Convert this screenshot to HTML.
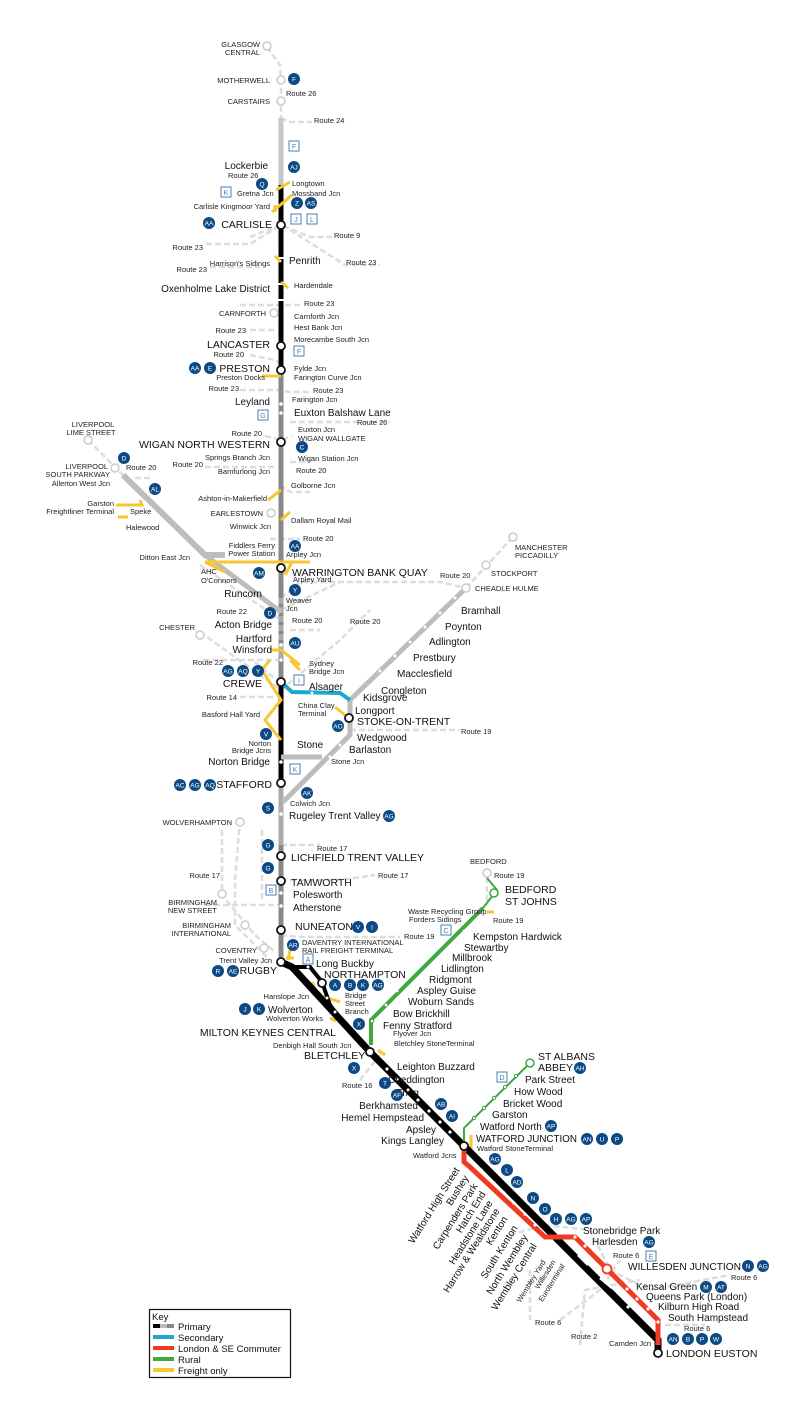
<!DOCTYPE html>
<html><head><meta charset="utf-8"><style>
html,body{margin:0;padding:0;background:#fff;}
svg{display:block;font-family:"Liberation Sans",Arial,sans-serif;}
.s{font-size:7.5px;fill:#222}
.m{font-size:10px;fill:#111}
.b{font-size:10.5px;fill:#111}
.bd circle{fill:#0d4a85}
.bd text{fill:#fff;font-size:6.5px;text-anchor:middle}
.bx rect{fill:#fff;stroke:#4a7fb5;stroke-width:1}
.bx text{fill:#4a7fb5;font-size:7px;text-anchor:middle}
.rt{stroke:#ddd;stroke-width:2.5;stroke-dasharray:6,3;fill:none}
</style></head><body>
<svg width="800" height="1409" viewBox="0 0 800 1409" xmlns="http://www.w3.org/2000/svg">
<g class="rt">
<path d="M267,47 L280,65 L281,80 L281,118"/>
<path d="M281,118 L290,122 L312,122"/>
<path d="M250,237 L281,225 L310,237 L332,237"/>
<path d="M206,244 L250,244 L281,225"/>
<path d="M290,230 L345,265 L380,265"/>
<path d="M210,267 L260,267"/>
<path d="M240,305 L300,305"/>
<path d="M250,330 L275,330"/>
<path d="M250,355 L275,360 L281,365"/>
<path d="M240,390 L280,390 L290,392 L310,392"/>
<path d="M290,422 L390,422"/>
<path d="M265,436 L281,440 L292,436"/>
<path d="M205,467 L275,467"/>
<path d="M290,462 L310,462"/>
<path d="M280,485 L290,492 L310,492"/>
<path d="M270,539 L300,539"/>
<path d="M88,440 L123,475"/>
<path d="M135,478 L150,478"/>
<path d="M281,598 L300,582 L380,582 L440,582 L466,588"/>
<path d="M200,565 L281,620"/>
<path d="M281,610 L340,582"/>
<path d="M290,630 L320,630"/>
<path d="M281,660 L200,660"/>
<path d="M255,662 L281,684"/>
<path d="M200,632 L281,690 L340,640 L370,610"/>
<path d="M240,697 L275,697"/>
<path d="M350,730 L460,730"/>
<path d="M466,588 L513,537"/>
<path d="M240,820 L235,880 L235,925 L270,960"/>
<path d="M222,830 L222,895 L255,935 L275,952"/>
<path d="M262,830 L262,900"/>
<path d="M205,905 L280,905"/>
<path d="M281,845 L300,845 L320,845"/>
<path d="M281,880 L340,880 L375,875"/>
<path d="M281,935 L300,937 L400,937"/>
<path d="M487,868 L487,905"/>
<path d="M360,1080 L380,1055"/>
<path d="M510,1235 L545,1225 L590,1230 L610,1270 L650,1290 L730,1275"/>
<path d="M560,1320 L600,1290 L620,1260"/>
<path d="M580,1345 L585,1290 L640,1280"/>
<path d="M665,1325 L705,1325"/>
<path d="M530,1270 L530,1320"/>
</g>
<line x1="281" y1="118" x2="281" y2="187" stroke="#c7c7c7" stroke-width="5"/>
<line x1="281" y1="185" x2="281" y2="366" stroke="#000" stroke-width="5"/>
<g stroke="#fff" stroke-width="2">
<line x1="278" y1="258" x2="284" y2="258"/><line x1="278" y1="284" x2="284" y2="284"/><line x1="278" y1="300" x2="284" y2="300"/>
</g>
<line x1="281" y1="370" x2="281" y2="680" stroke="#888" stroke-width="5"/>
<line x1="281" y1="598" x2="281" y2="660" stroke="#aaa" stroke-width="5" stroke-dasharray="6,3"/>
<line x1="281" y1="682" x2="281" y2="783" stroke="#000" stroke-width="5"/>
<line x1="281" y1="785" x2="281" y2="962" stroke="#888" stroke-width="5"/>
<line x1="281" y1="785" x2="281" y2="845" stroke="#aaa" stroke-width="5"/>
<polyline points="123,475 205,555 225,555" fill="none" stroke="#bdbdbd" stroke-width="6"/>
<polyline points="205,555 281,612" fill="none" stroke="#bdbdbd" stroke-width="5"/>
<polyline points="350,700 466,588" fill="none" stroke="#bdbdbd" stroke-width="5"/>
<polyline points="350,700 350,735 283,802" fill="none" stroke="#bdbdbd" stroke-width="5"/>
<line x1="281" y1="757" x2="322" y2="757" stroke="#bdbdbd" stroke-width="5"/>
<polyline points="281,682 292,692 340,693 350,700" fill="none" stroke="#1aa9cc" stroke-width="4"/>
<g stroke="#f7c633" stroke-width="3" fill="none">
<line x1="205" y1="562" x2="310" y2="562"/>
<line x1="205" y1="562" x2="225" y2="572"/>
<path d="M285,575 L292,562"/>
<path d="M276,190 L290,182"/><path d="M272,212 L292,195"/><path d="M275,205 L275,212"/>
<path d="M275,256 L281,262"/><path d="M281,282 L288,288"/>
<path d="M262,376 L281,376"/>
<path d="M268,500 L281,490"/><path d="M281,520 L290,512"/>
<path d="M116,505 L142,505 L140,500"/><path d="M118,517 L128,517"/>
<path d="M270,650 L281,650 L300,665"/><path d="M270,660 L262,670 L281,700 L265,720 L281,740"/>
<path d="M290,660 L300,670"/>
<path d="M335,707 L345,715"/>
<path d="M312,982 L318,995 L340,1002"/>
<path d="M288,960 L290,950"/><path d="M286,958 L294,958"/>
<path d="M330,1018 L336,1021"/>
<path d="M378,1050 L385,1055"/>
<path d="M487,912 L494,912"/>
<path d="M471,1135 L471,1150"/>
<path d="M560,1240 L575,1255"/>
</g>
<polyline points="281,962 292,967 370,1052 658,1340 658,1352" fill="none" stroke="#000" stroke-width="7"/>
<g stroke="#fff" stroke-width="2.5"><line x1="578" y1="1255" x2="588" y2="1265"/><line x1="600" y1="1278" x2="612" y2="1288"/></g>
<polyline points="292,967 310,967 322,982 330,1005 345,1025" fill="none" stroke="#000" stroke-width="4"/>
<polyline points="464,1148 464,1162 470,1167 545,1237 575,1237 600,1262 658,1320 658,1345" fill="none" stroke="#f03b24" stroke-width="5"/>
<polyline points="464,1146 464,1128 530,1063" fill="none" stroke="#3fa83f" stroke-width="2"/>
<polyline points="371,1045 371,1020 483,908" fill="none" stroke="#3fa83f" stroke-width="4"/>
<polyline points="483,908 497,890 487,878" fill="none" stroke="#3fa83f" stroke-width="2"/>
<g fill="#fff">
<circle cx="281" cy="404" r="1.8"/><circle cx="281" cy="413" r="1.8"/><circle cx="281" cy="660" r="1.8"/><circle cx="281" cy="645" r="1.8"/>
<circle cx="281" cy="762" r="1.8"/><circle cx="281" cy="814" r="1.8"/><circle cx="281" cy="893" r="1.8"/><circle cx="281" cy="906" r="1.8"/>
<circle cx="308" cy="967" r="1.5"/><circle cx="327" cy="998" r="1.5"/><circle cx="335" cy="1012" r="1.5"/>
<circle cx="312" cy="693" r="1.5"/>
<circle cx="380" cy="671" r="1.5"/><circle cx="395" cy="656" r="1.5"/><circle cx="410" cy="642" r="1.5"/><circle cx="425" cy="627" r="1.5"/><circle cx="440" cy="613" r="1.5"/><circle cx="455" cy="598" r="1.5"/>
<circle cx="330" cy="757" r="1.5"/><circle cx="340" cy="745" r="1.5"/>
<circle cx="387" cy="1069" r="1.6"/><circle cx="397" cy="1079" r="1.6"/><circle cx="408" cy="1090" r="1.6"/><circle cx="418" cy="1100" r="1.6"/><circle cx="429" cy="1111" r="1.6"/><circle cx="440" cy="1122" r="1.6"/><circle cx="450" cy="1132" r="1.6"/>
<circle cx="481" cy="1170" r="1.6"/><circle cx="494" cy="1183" r="1.6"/><circle cx="504" cy="1193" r="1.6"/><circle cx="514" cy="1203" r="1.6"/><circle cx="525" cy="1214" r="1.6"/><circle cx="535" cy="1225" r="1.6"/>
<circle cx="575" cy="1237" r="1.6"/><circle cx="585" cy="1246" r="1.6"/>
<circle cx="627" cy="1289" r="1.6"/><circle cx="637" cy="1299" r="1.6"/><circle cx="648" cy="1309" r="1.6"/><circle cx="658" cy="1322" r="1.6"/>
<circle cx="628" cy="1307" r="1.6"/>
<circle cx="386" cy="1005" r="1.4"/><circle cx="397" cy="991" r="1.4"/><circle cx="408" cy="978" r="1.4"/><circle cx="420" cy="964" r="1.4"/><circle cx="431" cy="950" r="1.4"/><circle cx="442" cy="937" r="1.4"/><circle cx="453" cy="924" r="1.4"/><circle cx="464" cy="931" r="1.4"/>
</g>
<g fill="#fff" stroke="#3fa83f" stroke-width="1"><circle cx="474" cy="1118" r="1.6"/><circle cx="484" cy="1108" r="1.6"/><circle cx="494" cy="1098" r="1.6"/><circle cx="505" cy="1087" r="1.6"/><circle cx="516" cy="1076" r="1.6"/><circle cx="530" cy="1063" r="4" stroke-width="1.5"/><circle cx="494" cy="893" r="4" stroke-width="1.5"/><circle cx="372" cy="1021" r="1.8"/></g>
<g fill="#fff" stroke="#ccc" stroke-width="1.5">
<circle cx="267" cy="46" r="4"/><circle cx="281" cy="80" r="4"/><circle cx="281" cy="101" r="4"/><circle cx="274" cy="313" r="4"/><circle cx="271" cy="513" r="4"/><circle cx="88" cy="440" r="4"/><circle cx="115" cy="468" r="4"/>
<circle cx="200" cy="635" r="4"/><circle cx="240" cy="822" r="4"/><circle cx="222" cy="894" r="4"/><circle cx="245" cy="925" r="4"/><circle cx="264" cy="948" r="4"/><circle cx="513" cy="537" r="4"/><circle cx="486" cy="565" r="4"/><circle cx="466" cy="588" r="4"/><circle cx="487" cy="873" r="4"/>
</g>
<g fill="#fff" stroke="#111" stroke-width="1.8">
<circle cx="281" cy="225" r="4"/><circle cx="281" cy="346" r="4"/><circle cx="281" cy="370" r="4"/><circle cx="281" cy="442" r="4"/><circle cx="281" cy="568" r="4"/><circle cx="281" cy="682" r="4"/><circle cx="349" cy="718" r="4"/><circle cx="281" cy="783" r="4"/><circle cx="281" cy="856" r="4"/><circle cx="281" cy="881" r="4"/><circle cx="281" cy="930" r="4"/><circle cx="281" cy="962" r="4"/><circle cx="322" cy="983" r="4"/><circle cx="370" cy="1052" r="4"/><circle cx="464" cy="1146" r="4"/><circle cx="658" cy="1353" r="4"/>
</g>
<circle cx="607" cy="1269" r="4.5" fill="#fff" stroke="#f03b24" stroke-width="1.8"/>
<g class="s">
<text x="260" y="47" text-anchor="end">GLASGOW</text><text x="260" y="55" text-anchor="end">CENTRAL</text>
<text x="270" y="83" text-anchor="end">MOTHERWELL</text>
<text x="286" y="96">Route 26</text>
<text x="270" y="104" text-anchor="end">CARSTAIRS</text>
<text x="314" y="123">Route 24</text>
<text x="228" y="178">Route 26</text>
<text x="237" y="196">Gretna Jcn</text>
<text x="292" y="186">Longtown</text><text x="292" y="196">Mossband Jcn</text>
<text x="270" y="209" text-anchor="end">Carlisle Kingmoor Yard</text>
<text x="334" y="238">Route 9</text>
<text x="203" y="250" text-anchor="end">Route 23</text>
<text x="346" y="265">Route 23</text>
<text x="270" y="266" text-anchor="end">Harrison's Sidings</text>
<text x="207" y="272" text-anchor="end">Route 23</text>
<text x="294" y="288">Hardendale</text>
<text x="304" y="306">Route 23</text>
<text x="266" y="316" text-anchor="end">CARNFORTH</text>
<text x="294" y="319">Carnforth Jcn</text>
<text x="246" y="333" text-anchor="end">Route 23</text>
<text x="294" y="330">Hest Bank Jcn</text>
<text x="294" y="342">Morecambe South Jcn</text>
<text x="244" y="357" text-anchor="end">Route 20</text>
<text x="294" y="371">Fylde Jcn</text>
<text x="294" y="380">Farington Curve Jcn</text>
<text x="265" y="380" text-anchor="end">Preston Docks</text>
<text x="239" y="391" text-anchor="end">Route 23</text>
<text x="313" y="393">Route 23</text>
<text x="292" y="402">Farington Jcn</text>
<text x="357" y="425">Route 20</text>
<text x="298" y="432">Euxton Jcn</text>
<text x="298" y="441">WIGAN WALLGATE</text>
<text x="262" y="436" text-anchor="end">Route 20</text>
<text x="298" y="461">Wigan Station Jcn</text>
<text x="270" y="460" text-anchor="end">Springs Branch Jcn</text>
<text x="203" y="467" text-anchor="end">Route 20</text>
<text x="270" y="474" text-anchor="end">Bamfurlong Jcn</text>
<text x="296" y="473">Route 20</text>
<text x="291" y="488">Golborne Jcn</text>
<text x="267" y="501" text-anchor="end">Ashton-in-Makerfield</text>
<text x="263" y="516" text-anchor="end">EARLESTOWN</text>
<text x="291" y="523">Dallam Royal Mail</text>
<text x="271" y="529" text-anchor="end">Winwick Jcn</text>
<text x="303" y="541">Route 20</text>
<text x="286" y="557">Arpley Jcn</text>
<text x="275" y="548" text-anchor="end">Fiddlers Ferry</text><text x="275" y="556" text-anchor="end">Power Station</text>
<text x="190" y="560" text-anchor="end">Ditton East Jcn</text>
<text x="201" y="574">AHC</text><text x="201" y="583">O'Connors</text>
<text x="293" y="582">Arpley Yard</text>
<text x="286" y="603">Weaver</text><text x="286" y="611">Jcn</text>
<text x="292" y="623">Route 20</text>
<text x="350" y="624">Route 20</text>
<text x="247" y="614" text-anchor="end">Route 22</text>
<text x="195" y="630" text-anchor="end">CHESTER</text>
<text x="223" y="665" text-anchor="end">Route 22</text>
<text x="309" y="666">Sydney</text><text x="309" y="674">Bridge Jcn</text>
<text x="237" y="700" text-anchor="end">Route 14</text>
<text x="260" y="717" text-anchor="end">Basford Hall Yard</text>
<text x="298" y="708">China Clay</text><text x="298" y="716">Terminal</text>
<text x="271" y="746" text-anchor="end">Norton</text><text x="271" y="753" text-anchor="end">Bridge Jcns</text>
<text x="331" y="764">Stone Jcn</text>
<text x="461" y="734">Route 19</text>
<text x="290" y="806">Colwich Jcn</text>
<text x="232" y="825" text-anchor="end">WOLVERHAMPTON</text>
<text x="317" y="851">Route 17</text>
<text x="220" y="878" text-anchor="end">Route 17</text>
<text x="378" y="878">Route 17</text>
<text x="217" y="905" text-anchor="end">BIRMINGHAM</text><text x="217" y="913" text-anchor="end">NEW STREET</text>
<text x="231" y="928" text-anchor="end">BIRMINGHAM</text><text x="231" y="936" text-anchor="end">INTERNATIONAL</text>
<text x="257" y="953" text-anchor="end">COVENTRY</text>
<text x="272" y="963" text-anchor="end">Trent Valley Jcn</text>
<text x="302" y="945">DAVENTRY INTERNATIONAL</text><text x="302" y="953">RAIL FREIGHT TERMINAL</text>
<text x="404" y="939">Route 19</text>
<text x="408" y="914">Waste Recycling Group</text><text x="409" y="922">Forders Sidings</text>
<text x="470" y="864">BEDFORD</text>
<text x="494" y="878">Route 19</text>
<text x="493" y="923">Route 19</text>
<text x="345" y="998">Bridge</text><text x="345" y="1006">Street</text><text x="345" y="1014">Branch</text>
<text x="309" y="999" text-anchor="end">Hanslope Jcn</text>
<text x="323" y="1021" text-anchor="end">Wolverton Works</text>
<text x="273" y="1048">Denbigh Hall South Jcn</text>
<text x="393" y="1036">Flyover Jcn</text>
<text x="394" y="1046">Bletchley StoneTerminal</text>
<text x="342" y="1088">Route 16</text>
<text x="413" y="1158">Watford Jcns</text>
<text x="477" y="1151">Watford StoneTerminal</text>
<text x="613" y="1258">Route 6</text>
<text x="731" y="1280">Route 6</text>
<text x="684" y="1331">Route 6</text>
<text x="535" y="1325">Route 6</text>
<text x="571" y="1339">Route 2</text>
<text x="609" y="1346">Camden Jcn</text>
<text x="515" y="550">MANCHESTER</text><text x="515" y="558">PICCADILLY</text>
<text x="491" y="576">STOCKPORT</text>
<text x="475" y="591">CHEADLE HULME</text>
<text x="440" y="578">Route 20</text>
<text x="126" y="470">Route 20</text>
<text x="93" y="427" text-anchor="middle">LIVERPOOL</text><text x="91" y="435" text-anchor="middle">LIME STREET</text>
<text x="108" y="469" text-anchor="end">LIVERPOOL</text><text x="110" y="477" text-anchor="end">SOUTH PARKWAY</text><text x="110" y="486" text-anchor="end">Allerton West Jcn</text>
<text x="114" y="506" text-anchor="end">Garston</text><text x="114" y="514" text-anchor="end">Freightliner Terminal</text>
<text x="130" y="514">Speke</text>
<text x="126" y="530">Halewood</text>
</g>
<g class="m">
<text x="268" y="169" text-anchor="end">Lockerbie</text>
<text x="289" y="264">Penrith</text>
<text x="270" y="292" text-anchor="end">Oxenholme Lake District</text>
<text x="270" y="405" text-anchor="end">Leyland</text>
<text x="294" y="416">Euxton Balshaw Lane</text>
<text x="262" y="597" text-anchor="end">Runcorn</text>
<text x="272" y="628" text-anchor="end">Acton Bridge</text>
<text x="272" y="642" text-anchor="end">Hartford</text>
<text x="272" y="653" text-anchor="end">Winsford</text>
<text x="309" y="690">Alsager</text>
<text x="363" y="701">Kidsgrove</text><text x="355" y="714">Longport</text>
<text x="357" y="741">Wedgwood</text><text x="349" y="753">Barlaston</text>
<text x="297" y="748">Stone</text>
<text x="270" y="765" text-anchor="end">Norton Bridge</text>
<text x="289" y="819">Rugeley Trent Valley</text>
<text x="461" y="614">Bramhall</text><text x="445" y="630">Poynton</text><text x="429" y="645">Adlington</text><text x="413" y="661">Prestbury</text><text x="397" y="677">Macclesfield</text><text x="381" y="694">Congleton</text>
<text x="293" y="898">Polesworth</text><text x="293" y="911">Atherstone</text>
<text x="316" y="967">Long Buckby</text>
<text x="268" y="1013">Wolverton</text>
<text x="473" y="940">Kempston Hardwick</text><text x="464" y="951">Stewartby</text><text x="452" y="961">Millbrook</text><text x="441" y="972">Lidlington</text><text x="429" y="983">Ridgmont</text><text x="417" y="994">Aspley Guise</text><text x="408" y="1005">Woburn Sands</text><text x="393" y="1017">Bow Brickhill</text><text x="383" y="1029">Fenny Stratford</text>
<text x="397" y="1070">Leighton Buzzard</text><text x="388" y="1083">Cheddington</text><text x="419" y="1096" text-anchor="end">Tring</text>
<text x="418" y="1109" text-anchor="end">Berkhamsted</text><text x="424" y="1121" text-anchor="end">Hemel Hempstead</text>
<text x="436" y="1133" text-anchor="end">Apsley</text><text x="444" y="1144" text-anchor="end">Kings Langley</text>
<text x="525" y="1083">Park Street</text><text x="514" y="1095">How Wood</text><text x="503" y="1107">Bricket Wood</text><text x="492" y="1118">Garston</text><text x="480" y="1130">Watford North</text>
<text x="583" y="1234">Stonebridge Park</text>
<text x="592" y="1245">Harlesden</text>
<text x="636" y="1290">Kensal Green</text><text x="646" y="1300">Queens Park (London)</text><text x="658" y="1310">Kilburn High Road</text><text x="668" y="1321">South Hampstead</text>
</g>
<g class="b">
<text x="272" y="228" text-anchor="end">CARLISLE</text>
<text x="270" y="348" text-anchor="end">LANCASTER</text>
<text x="270" y="372" text-anchor="end">PRESTON</text>
<text x="270" y="448" text-anchor="end">WIGAN NORTH WESTERN</text>
<text x="292" y="576">WARRINGTON BANK QUAY</text>
<text x="262" y="687" text-anchor="end">CREWE</text>
<text x="357" y="725">STOKE-ON-TRENT</text>
<text x="272" y="788" text-anchor="end">STAFFORD</text>
<text x="291" y="861">LICHFIELD TRENT VALLEY</text>
<text x="291" y="886">TAMWORTH</text>
<text x="295" y="930">NUNEATON</text>
<text x="277" y="974" text-anchor="end">RUGBY</text>
<text x="324" y="978">NORTHAMPTON</text>
<text x="336" y="1036" text-anchor="end">MILTON KEYNES CENTRAL</text>
<text x="304" y="1059">BLETCHLEY</text>
<text x="505" y="893">BEDFORD</text><text x="505" y="905">ST JOHNS</text>
<text x="538" y="1060">ST ALBANS</text><text x="538" y="1071">ABBEY</text>
<text x="476" y="1142" textLength="101" lengthAdjust="spacingAndGlyphs">WATFORD JUNCTION</text>
<text x="628" y="1270" textLength="113" lengthAdjust="spacingAndGlyphs">WILLESDEN JUNCTION</text>
<text x="666" y="1357">LONDON EUSTON</text>
</g>
<g class="m">
<text transform="translate(460,1170) rotate(-58)" text-anchor="end">Watford High Street</text>
<text transform="translate(469,1178) rotate(-58)" text-anchor="end">Bushey</text>
<text transform="translate(478,1186) rotate(-58)" text-anchor="end">Carpenders Park</text>
<text transform="translate(486,1194) rotate(-58)" text-anchor="end">Hatch End</text>
<text transform="translate(493,1203) rotate(-58)" text-anchor="end">Headstone Lane</text>
<text transform="translate(500,1211) rotate(-58)" text-anchor="end">Harrow &amp; Wealdstone</text>
<text transform="translate(508,1219) rotate(-58)" text-anchor="end">Kenton</text>
<text transform="translate(518,1228) rotate(-58)" text-anchor="end">South Kenton</text>
<text transform="translate(528,1237) rotate(-58)" text-anchor="end">North Wembley</text>
<text transform="translate(537,1246) rotate(-58)" text-anchor="end">Wembley Central</text>
</g>
<g class="s">
<text transform="translate(546,1262) rotate(-58)" text-anchor="end">Wembley Yard</text>
<text transform="translate(556,1262) rotate(-58)" text-anchor="end">Willesden</text>
<text transform="translate(565,1266) rotate(-58)" text-anchor="end">Euroterminal</text>
</g>
<g class="bd">
<circle cx="294" cy="79" r="6"/><text x="294" y="81.5">F</text>
<circle cx="294" cy="167" r="6"/><text x="294" y="169.5">AJ</text>
<circle cx="262" cy="184" r="6"/><text x="262" y="186.5">Q</text>
<circle cx="297" cy="203" r="6"/><text x="297" y="205.5">Z</text>
<circle cx="311" cy="203" r="6"/><text x="311" y="205.5">AS</text>
<circle cx="209" cy="223" r="6"/><text x="209" y="225.5">AA</text>
<circle cx="195" cy="368" r="6"/><text x="195" y="370.5">AA</text>
<circle cx="210" cy="368" r="6"/><text x="210" y="370.5">E</text>
<circle cx="302" cy="447" r="6"/><text x="302" y="449.5">C</text>
<circle cx="124" cy="458" r="6"/><text x="124" y="460.5">D</text>
<circle cx="155" cy="489" r="6"/><text x="155" y="491.5">AL</text>
<circle cx="295" cy="546" r="6"/><text x="295" y="548.5">AA</text>
<circle cx="259" cy="573" r="6"/><text x="259" y="575.5">AM</text>
<circle cx="295" cy="590" r="6"/><text x="295" y="592.5">Y</text>
<circle cx="270" cy="613" r="6"/><text x="270" y="615.5">D</text>
<circle cx="295" cy="643" r="6"/><text x="295" y="645.5">AU</text>
<circle cx="228" cy="671" r="6"/><text x="228" y="673.5">AG</text>
<circle cx="243" cy="671" r="6"/><text x="243" y="673.5">AQ</text>
<circle cx="258" cy="671" r="6"/><text x="258" y="673.5">Y</text>
<circle cx="338" cy="726" r="6"/><text x="338" y="728.5">AO</text>
<circle cx="266" cy="734" r="6"/><text x="266" y="736.5">V</text>
<circle cx="180" cy="785" r="6"/><text x="180" y="787.5">AC</text>
<circle cx="195" cy="785" r="6"/><text x="195" y="787.5">AG</text>
<circle cx="210" cy="785" r="6"/><text x="210" y="787.5">AQ</text>
<circle cx="307" cy="793" r="6"/><text x="307" y="795.5">AK</text>
<circle cx="268" cy="808" r="6"/><text x="268" y="810.5">S</text>
<circle cx="389" cy="816" r="6"/><text x="389" y="818.5">AG</text>
<circle cx="268" cy="845" r="6"/><text x="268" y="847.5">G</text>
<circle cx="268" cy="868" r="6"/><text x="268" y="870.5">G</text>
<circle cx="358" cy="927" r="6"/><text x="358" y="929.5">V</text>
<circle cx="372" cy="927" r="6"/><text x="372" y="929.5">I</text>
<circle cx="293" cy="945" r="6"/><text x="293" y="947.5">AR</text>
<circle cx="218" cy="971" r="6"/><text x="218" y="973.5">R</text>
<circle cx="233" cy="971" r="6"/><text x="233" y="973.5">AE</text>
<circle cx="335" cy="985" r="6"/><text x="335" y="987.5">A</text>
<circle cx="350" cy="985" r="6"/><text x="350" y="987.5">B</text>
<circle cx="363" cy="985" r="6"/><text x="363" y="987.5">K</text>
<circle cx="378" cy="985" r="6"/><text x="378" y="987.5">AG</text>
<circle cx="245" cy="1009" r="6"/><text x="245" y="1011.5">J</text>
<circle cx="259" cy="1009" r="6"/><text x="259" y="1011.5">K</text>
<circle cx="359" cy="1024" r="6"/><text x="359" y="1026.5">X</text>
<circle cx="354" cy="1068" r="6"/><text x="354" y="1070.5">X</text>
<circle cx="385" cy="1083" r="6"/><text x="385" y="1085.5">T</text>
<circle cx="397" cy="1095" r="6"/><text x="397" y="1097.5">AF</text>
<circle cx="441" cy="1104" r="6"/><text x="441" y="1106.5">AB</text>
<circle cx="452" cy="1116" r="6"/><text x="452" y="1118.5">AI</text>
<circle cx="580" cy="1068" r="6"/><text x="580" y="1070.5">AH</text>
<circle cx="551" cy="1126" r="6"/><text x="551" y="1128.5">AP</text>
<circle cx="587" cy="1139" r="6"/><text x="587" y="1141.5">AN</text>
<circle cx="602" cy="1139" r="6"/><text x="602" y="1141.5">U</text>
<circle cx="617" cy="1139" r="6"/><text x="617" y="1141.5">P</text>
<circle cx="495" cy="1159" r="6"/><text x="495" y="1161.5">AG</text>
<circle cx="507" cy="1170" r="6"/><text x="507" y="1172.5">L</text>
<circle cx="517" cy="1182" r="6"/><text x="517" y="1184.5">AD</text>
<circle cx="533" cy="1198" r="6"/><text x="533" y="1200.5">N</text>
<circle cx="545" cy="1209" r="6"/><text x="545" y="1211.5">O</text>
<circle cx="556" cy="1219" r="6"/><text x="556" y="1221.5">H</text>
<circle cx="571" cy="1219" r="6"/><text x="571" y="1221.5">AG</text>
<circle cx="586" cy="1219" r="6"/><text x="586" y="1221.5">AP</text>
<circle cx="649" cy="1242" r="6"/><text x="649" y="1244.5">AG</text>
<circle cx="748" cy="1266" r="6"/><text x="748" y="1268.5">N</text>
<circle cx="763" cy="1266" r="6"/><text x="763" y="1268.5">AG</text>
<circle cx="706" cy="1287" r="6"/><text x="706" y="1289.5">M</text>
<circle cx="721" cy="1287" r="6"/><text x="721" y="1289.5">AT</text>
<circle cx="673" cy="1339" r="6"/><text x="673" y="1341.5">AN</text>
<circle cx="688" cy="1339" r="6"/><text x="688" y="1341.5">B</text>
<circle cx="702" cy="1339" r="6"/><text x="702" y="1341.5">P</text>
<circle cx="716" cy="1339" r="6"/><text x="716" y="1341.5">W</text>
</g>
<g class="bx">
<rect x="289" y="141" width="10" height="10"/><text x="294" y="149">F</text>
<rect x="221" y="187" width="10" height="10"/><text x="226" y="195">K</text>
<rect x="291" y="214" width="10" height="10"/><text x="296" y="222">J</text>
<rect x="307" y="214" width="10" height="10"/><text x="312" y="222">L</text>
<rect x="294" y="346" width="10" height="10"/><text x="299" y="354">F</text>
<rect x="258" y="410" width="10" height="10"/><text x="263" y="418">G</text>
<rect x="294" y="675" width="10" height="10"/><text x="299" y="683">I</text>
<rect x="290" y="764" width="10" height="10"/><text x="295" y="772">K</text>
<rect x="266" y="885" width="10" height="10"/><text x="271" y="893">B</text>
<rect x="303" y="954" width="10" height="10"/><text x="308" y="962">A</text>
<rect x="441" y="925" width="10" height="10"/><text x="446" y="933">C</text>
<rect x="497" y="1072" width="10" height="10"/><text x="502" y="1080">D</text>
<rect x="646" y="1251" width="10" height="10"/><text x="651" y="1259">E</text>
</g>
<rect x="149.5" y="1309.5" width="141" height="68" fill="#fff" stroke="#111" stroke-width="1.2"/>
<g font-size="9.5" fill="#111">
<text x="152" y="1320">Key</text>
<rect x="153" y="1324" width="7" height="4" fill="#000"/><rect x="160" y="1324" width="7" height="4" fill="#bbb"/><rect x="167" y="1324" width="7" height="4" fill="#888"/>
<text x="178" y="1330">Primary</text>
<rect x="153" y="1335" width="21" height="4" fill="#1aa9cc"/><text x="178" y="1341">Secondary</text>
<rect x="153" y="1346" width="21" height="4" fill="#f03b24"/><text x="178" y="1352">London &amp; SE Commuter</text>
<rect x="153" y="1357" width="21" height="4" fill="#3fa83f"/><text x="178" y="1363">Rural</text>
<rect x="153" y="1368" width="21" height="4" fill="#f7c633"/><text x="178" y="1374">Freight only</text>
</g>
</svg>
</body></html>
